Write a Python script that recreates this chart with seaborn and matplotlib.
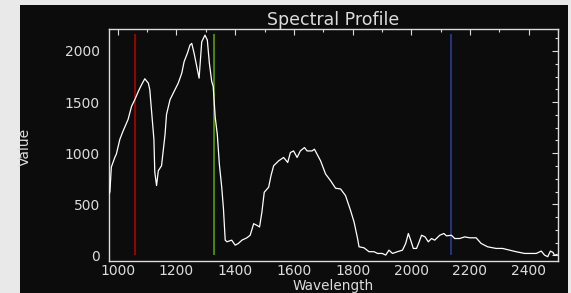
import numpy as np
import pandas as pd
import matplotlib
matplotlib.use("Agg")
import matplotlib.pyplot as plt
from matplotlib.patches import Rectangle
from matplotlib.ticker import MultipleLocator
import seaborn as sns

# spectrum
wavelength = [970, 973, 978, 990, 995, 1007, 1018, 1035, 1047, 1058, 1070, 1081, 1092, 1104,
              1109, 1115, 1123, 1126, 1132, 1138, 1149, 1161, 1166, 1178, 1195, 1206, 1218,
              1226, 1237, 1246, 1252, 1260, 1269, 1277, 1286, 1297, 1305, 1312, 1320, 1325,
              1332, 1339, 1346, 1354, 1360, 1366, 1372, 1388, 1400, 1411, 1423, 1440, 1451,
              1463, 1474, 1483, 1491, 1499, 1514, 1522, 1531, 1548, 1565, 1579, 1588, 1599,
              1611, 1622, 1636, 1645, 1662, 1670, 1679, 1691, 1708, 1725, 1742, 1759, 1776,
              1793, 1805, 1817, 1822, 1839, 1856, 1873, 1885, 1901, 1913, 1924, 1936, 1953,
              1970, 1981, 1990, 1998, 2007, 2018, 2027, 2035, 2047, 2058, 2069, 2080, 2097,
              2111, 2120, 2137, 2148, 2165, 2182, 2199, 2221, 2238, 2260, 2289, 2311, 2335,
              2357, 2386, 2409, 2426, 2443, 2454, 2465, 2474, 2483, 2488, 2497]
value = [600, 620, 864, 960, 990, 1136, 1217, 1330, 1460, 1524, 1605, 1670, 1728, 1686,
         1621, 1411, 1136, 815, 683, 828, 877, 1184, 1379, 1524, 1621, 1686, 1783,
         1896, 1977, 2058, 2074, 1977, 1848, 1734, 2090, 2155, 2107, 1880, 1702, 1654,
         1350, 1184, 893, 670, 456, 149, 133, 149, 100, 117, 149, 172, 197,
         310, 294, 278, 423, 618, 667, 780, 877, 925, 958, 909, 1006, 1022,
         958, 1022, 1055, 1022, 1022, 1039, 990, 925, 796, 731, 657, 650, 585,
         440, 327, 165, 84, 74, 36, 36, 19, 19, 3, 51, 19, 36,
         51, 117, 214, 149, 68, 68, 133, 197, 181, 133, 165, 149, 197,
         214, 191, 197, 165, 165, 181, 172, 172, 117, 84, 68, 68, 51,
         36, 19, 19, 19, 42, 3, -13, 42, 29, 0, 10]

# band markers (R, G, B)
band_wl = [1058, 1328, 2135]
band_colors = ["#b00000", "#5c9a00", "#2b3c96"]

df = pd.DataFrame({"Wavelength": wavelength, "Value": value})

sns.set_style("dark")
plt.rcParams["font.family"] = ["DejaVu Sans"]
fg = "#dcdcdc"

fig = plt.figure(figsize=(5.71, 2.93), dpi=100, facecolor="#e9e9e9")
# black panel behind the plot
fig.add_artist(Rectangle((20 / 571, 0), 548 / 571, 288 / 293, transform=fig.transFigure,
                         facecolor="#0c0c0c", edgecolor="none", zorder=0))

ax = fig.add_axes([109 / 571, 32 / 293, 449 / 571, 232 / 293])
ax.set_facecolor("#0c0c0c")

ax.vlines(band_wl, 0, 2165, colors=band_colors, linewidth=1.2, zorder=2)
sns.lineplot(data=df, x="Wavelength", y="Value", ax=ax, color="white",
             linewidth=0.9, estimator=None, zorder=3)

ax.set_xlim(970, 2500)
ax.set_ylim(-55, 2215)
ax.xaxis.set_major_locator(MultipleLocator(200))
ax.xaxis.set_minor_locator(MultipleLocator(100))
ax.yaxis.set_major_locator(MultipleLocator(500))
ax.yaxis.set_minor_locator(MultipleLocator(125))

ax.tick_params(which="both", direction="in", top=True, right=True, color=fg,
               labelcolor=fg, labelsize=10)
ax.tick_params(which="major", length=4.5, width=0.8)
ax.tick_params(which="minor", length=2.5, width=0.8)
ax.tick_params(axis="x", pad=2.5)
ax.tick_params(axis="y", pad=6.5)
for s in ax.spines.values():
    s.set_color(fg)
    s.set_linewidth(1.0)
ax.grid(False)

ax.set_title("Spectral Profile", color=fg, fontsize=12.5, pad=3)
ax.set_xlabel("Wavelength", color=fg, fontsize=9.8, va="top")
ax.xaxis.set_label_coords(0.5, -0.078)
ax.set_ylabel("Value", color=fg, fontsize=10)
ax.yaxis.set_label_coords(-0.171, 0.49)

fig.savefig("out.png", dpi=100, facecolor=fig.get_facecolor())
